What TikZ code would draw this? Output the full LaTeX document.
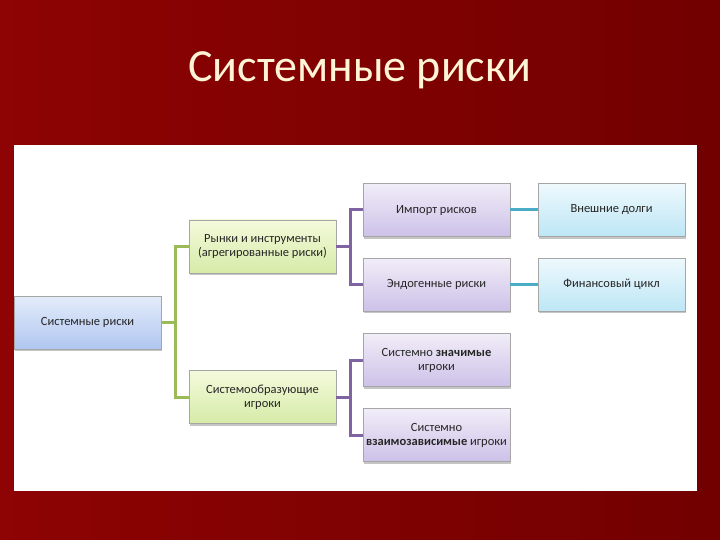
\documentclass[tikz,border=0pt]{standalone}
\usepackage{fontspec}
\setmainfont{Carlito}
\usetikzlibrary{shadows}
\definecolor{bgL}{HTML}{8E0303}
\definecolor{bgR}{HTML}{720000}
\definecolor{titlec}{HTML}{FFF4D6}
\definecolor{blueT}{HTML}{E4ECFA}
\definecolor{blueB}{HTML}{B0C6F0}
\definecolor{greenT}{HTML}{F4FADC}
\definecolor{greenB}{HTML}{D6EBA8}
\definecolor{purpT}{HTML}{F1EDF8}
\definecolor{purpB}{HTML}{CDC1E8}
\definecolor{cyanT}{HTML}{EEF9FD}
\definecolor{cyanB}{HTML}{BDE6F5}
\definecolor{lnG}{HTML}{9BBB59}
\definecolor{lnP}{HTML}{8064A2}
\definecolor{lnC}{HTML}{4BACC6}
\definecolor{txt}{HTML}{262626}
\tikzset{
  box/.style={draw=black!35, line width=0.5pt, minimum width=147pt, minimum height=53pt,
    align=center, font=\fontsize{12.5}{14}\selectfont, text=txt, inner sep=2pt,
    drop shadow={shadow xshift=1pt, shadow yshift=-2pt, fill=black!45, opacity=0.5}},
  bluebox/.style={box, top color=blueT, bottom color=blueB},
  greenbox/.style={box, top color=greenT, bottom color=greenB},
  purpbox/.style={box, top color=purpT, bottom color=purpB},
  cyanbox/.style={box, top color=cyanT, bottom color=cyanB},
  conG/.style={draw=lnG, line width=3pt},
  conP/.style={draw=lnP, line width=3pt},
  conC/.style={draw=lnC, line width=3pt},
}
\begin{document}
\begin{tikzpicture}[x=1pt,y=-1pt]
\useasboundingbox (0,0) rectangle (720,540);
\shade[left color=bgL, right color=bgR] (0,0) rectangle (720,540);
\fill[white] (14,145) rectangle (697,491);
\node[text=titlec, font=\fontsize{46}{50}\selectfont] (title) at (360,70) {Системные риски};

\node[bluebox] (sr) at (87.5,322.5) {Системные риски};
\node[greenbox] (ri) at (262.5,246.5) {Рынки и инструменты\\(агрегированные риски)};
\node[greenbox] (so) at (262.5,397) {Системообразующие\\игроки};
\node[purpbox] (ir) at (436.5,210) {Импорт рисков};
\node[purpbox] (er) at (436.5,284.5) {Эндогенные риски};
\node[purpbox] (sz) at (436.5,360) {Системно \textbf{значимые}\\игроки};
\node[purpbox] (sv) at (436.5,435) {Системно\\\textbf{взаимозависимые} игроки};
\node[cyanbox] (vd) at (611.5,210) {Внешние долги};
\node[cyanbox] (fc) at (611.5,284.5) {Финансовый цикл};

\coordinate (g1) at (175,322.5);
\coordinate (p1) at (350,246.5);
\coordinate (p2) at (350,397);

\draw[conG, line join=round] (sr.east) -- (g1);
\draw[conG] (ri.west) -| (g1);
\draw[conG] (so.west) -| (g1);
\draw[conP] (ri.east) -- (p1);
\draw[conP] (ir.west) -| (p1);
\draw[conP] (er.west) -| (p1);
\draw[conP] (so.east) -- (p2);
\draw[conP] (sz.west) -| (p2);
\draw[conP] (sv.west) -| (p2);
\draw[conC] (ir) -- (vd);
\draw[conC] (er) -- (fc);
\end{tikzpicture}
\end{document}
